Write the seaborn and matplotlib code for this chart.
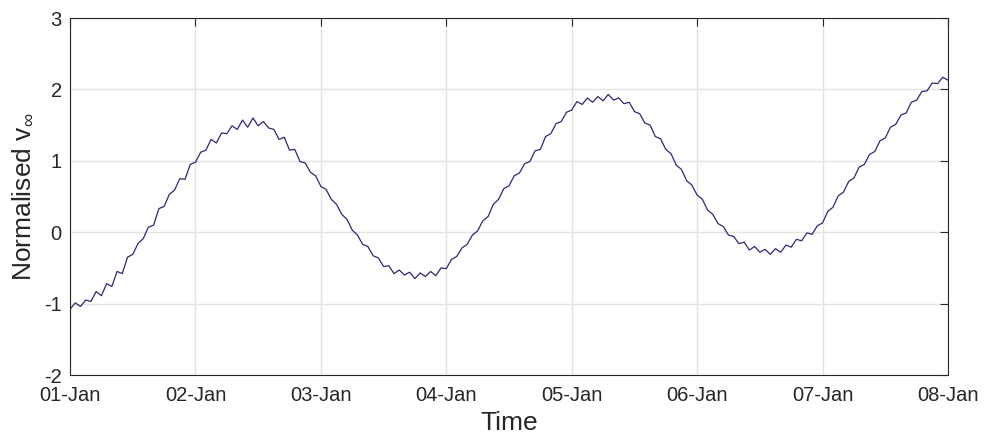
import numpy as np
import pandas as pd
import matplotlib
matplotlib.use("Agg")
import matplotlib.pyplot as plt
import matplotlib.dates as mdates
import seaborn as sns

# hourly samples from 01-Jan 00:00 to 08-Jan 00:00
start = "2021-01-01 00:00"
values = [
    -1.08, -0.99, -1.04, -0.95, -0.97, -0.83, -0.89, -0.72, -0.76, -0.55, -0.58, -0.35,
    -0.31, -0.16, -0.09, 0.07, 0.10, 0.33, 0.36, 0.53, 0.59, 0.75, 0.74, 0.95,
    0.98, 1.12, 1.15, 1.30, 1.25, 1.39, 1.38, 1.49, 1.44, 1.57, 1.47, 1.60,
    1.49, 1.55, 1.46, 1.44, 1.30, 1.33, 1.15, 1.16, 0.99, 0.97, 0.84, 0.79,
    0.64, 0.60, 0.46, 0.39, 0.25, 0.18, 0.03, -0.04, -0.17, -0.20, -0.33, -0.36,
    -0.48, -0.47, -0.58, -0.53, -0.60, -0.56, -0.65, -0.57, -0.62, -0.55, -0.61, -0.50,
    -0.51, -0.38, -0.34, -0.22, -0.17, -0.04, 0.02, 0.16, 0.22, 0.39, 0.46, 0.61,
    0.65, 0.79, 0.83, 0.96, 0.99, 1.14, 1.16, 1.34, 1.38, 1.52, 1.55, 1.68,
    1.71, 1.83, 1.79, 1.88, 1.82, 1.90, 1.84, 1.93, 1.85, 1.88, 1.80, 1.82,
    1.69, 1.66, 1.53, 1.50, 1.34, 1.31, 1.16, 1.10, 0.94, 0.88, 0.72, 0.66,
    0.52, 0.46, 0.31, 0.25, 0.12, 0.08, -0.04, -0.06, -0.16, -0.14, -0.25, -0.20,
    -0.28, -0.24, -0.31, -0.23, -0.28, -0.18, -0.21, -0.10, -0.12, -0.01, -0.03, 0.09,
    0.13, 0.29, 0.35, 0.51, 0.56, 0.71, 0.76, 0.91, 0.95, 1.09, 1.13, 1.28,
    1.32, 1.47, 1.51, 1.64, 1.67, 1.82, 1.85, 1.97, 1.98, 2.09, 2.08, 2.17,
    2.13,
]
yticks = [-2, -1, 0, 1, 2, 3]
xlabel = "Time"
ylabel = "Normalised v$_{\\infty}$"

times = pd.date_range(start, periods=len(values), freq="h")
df = pd.DataFrame({"time": times, "v": values})

sns.set_theme(style="white")
plt.rcParams["font.family"] = ["Liberation Sans", "DejaVu Sans"]
plt.rcParams["mathtext.fontset"] = "custom"
plt.rcParams["mathtext.rm"] = "Liberation Sans"
plt.rcParams["mathtext.it"] = "Liberation Sans"

fig = plt.figure(figsize=(9.85, 4.36), dpi=100)
ax = fig.add_axes([0.0711, 0.1399, 0.8913, 0.8188])

sns.lineplot(data=df, x="time", y="v", ax=ax, color="#36256f", linewidth=0.9)

ax.set_xlim(pd.Timestamp("2021-01-01"), pd.Timestamp("2021-01-08"))
ax.set_ylim(-2, 3)
ax.set_yticks(yticks)
ax.set_yticklabels([str(t) for t in yticks])
ax.xaxis.set_major_locator(mdates.DayLocator())
ax.xaxis.set_major_formatter(mdates.DateFormatter("%d-%b"))

ax.grid(True, color="#e3e3e3", linewidth=1.0)
ax.set_axisbelow(True)
ax.tick_params(direction="in", length=6, width=0.8, top=True, right=True,
               labelsize=14.5, colors="#262626")
ax.tick_params(axis="x", pad=8)
ax.tick_params(axis="y", pad=6)
for s in ax.spines.values():
    s.set_color("#262626")
    s.set_linewidth(0.8)

ax.set_xlabel(xlabel, fontsize=19, color="#262626", labelpad=4)
ax.set_ylabel(ylabel, fontsize=19, color="#262626", labelpad=7)

fig.savefig("out.png", dpi=100)
